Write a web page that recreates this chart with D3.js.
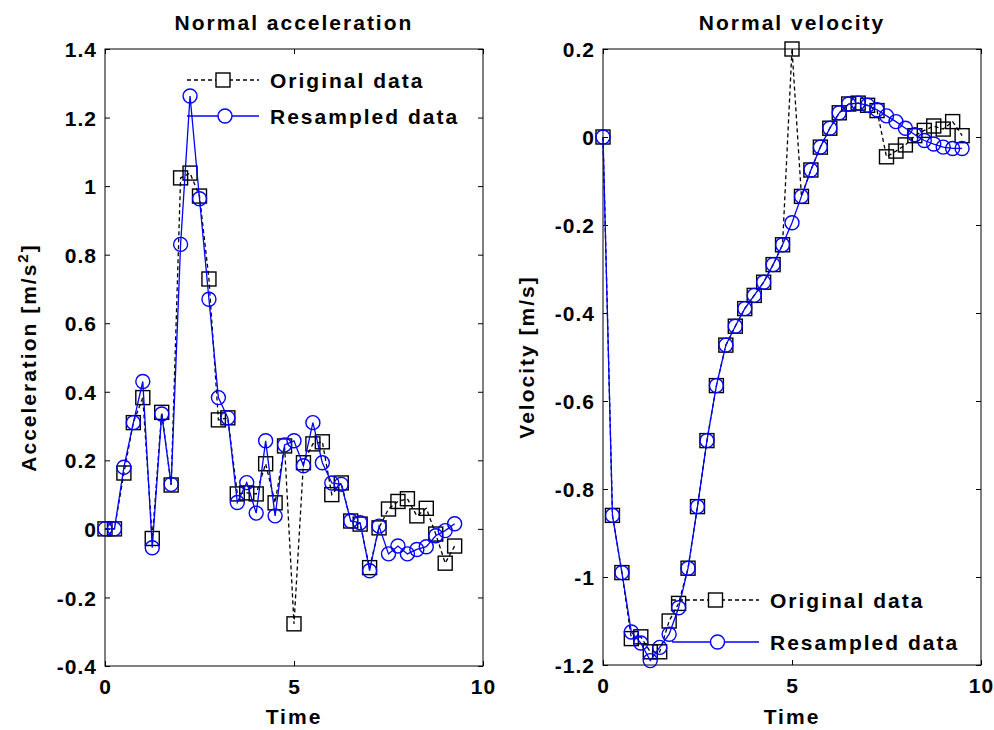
<!DOCTYPE html>
<html lang="en">
<head>
    <title>Normal acceleration and velocity</title>
    <meta charset="utf-8">
    <style>
        body { margin: 0; background: white; }
        text {
            font-family: 'Liberation Sans', Arial, sans-serif;
            font-weight: bold;
            fill: black;
        }
    </style>
</head>
<body>
    <svg id="chart" width="994" height="730"></svg>

    <script src="https://d3js.org/d3.v7.min.js"></script>
    <script>
// time stamps of the samples
const timeAcc = [0, 0.25, 0.5, 0.75, 1, 1.25, 1.5, 1.75, 2, 2.25, 2.5, 2.75, 3, 3.25, 3.5, 3.75, 4, 4.25, 4.5, 4.75,
                 5, 5.25, 5.5, 5.75, 6, 6.25, 6.5, 6.75, 7, 7.25, 7.5, 7.75, 8, 8.25, 8.5, 8.75, 9, 9.25];
const timeVel = [0, 0.25, 0.5, 0.75, 1, 1.25, 1.5, 1.75, 2, 2.25, 2.5, 2.75, 3, 3.25, 3.5, 3.75, 4, 4.25, 4.5, 4.75,
                 5, 5.25, 5.5, 5.75, 6, 6.25, 6.5, 6.75, 7, 7.25, 7.5, 7.75, 8, 8.25, 8.5, 8.75, 9, 9.25, 9.5];

// Normal acceleration [m/s^2]
const accOriginal = [0, 0, 0.163, 0.31, 0.383, -0.028, 0.34, 0.128, 1.024, 1.038, 0.971, 0.729, 0.318, 0.324,
                     0.102, 0.105, 0.102, 0.19, 0.076, 0.242, -0.277, 0.193, 0.248, 0.254, 0.10, 0.134, 0.023,
                     0.014, -0.113, 0.003, 0.058, 0.08, 0.088, 0.038, 0.06, -0.015, -0.10, -0.05];
const accResampled = [0, 0, 0.18, 0.31, 0.43, -0.055, 0.335, 0.13, 0.83, 1.263, 0.963, 0.67, 0.383, 0.324,
                      0.077, 0.135, 0.046, 0.257, 0.038, 0.245, 0.257, 0.184, 0.31, 0.193, 0.134, 0.13, 0.023,
                      0.018, -0.122, 0.008, -0.073, -0.05, -0.073, -0.06, -0.052, -0.02, -0.005, 0.015];

// Normal velocity [m/s]
const velOriginal = [0, -0.86, -0.99, -1.14, -1.136, -1.17, -1.17, -1.10, -1.06, -0.98, -0.84, -0.69, -0.565,
                     -0.473, -0.43, -0.39, -0.36, -0.33, -0.29, -0.245, 0.2, -0.135, -0.075, -0.023, 0.02, 0.055,
                     0.075, 0.077, 0.072, 0.06, -0.045, -0.032, -0.018, 0.003, 0.015, 0.025, 0.018, 0.035, 0.003];
const velResampled = [0, -0.86, -0.99, -1.125, -1.15, -1.19, -1.16, -1.13, -1.07, -0.98, -0.84, -0.69, -0.565,
                      -0.473, -0.43, -0.39, -0.36, -0.33, -0.29, -0.245, -0.195, -0.135, -0.075, -0.023, 0.02,
                      0.055, 0.075, 0.077, 0.072, 0.062, 0.048, 0.035, 0.02, 0.005, -0.008, -0.016, -0.023,
                      -0.026, -0.026];

const xTicks = [0, 5, 10];
const accTicks = [-0.4, -0.2, 0, 0.2, 0.4, 0.6, 0.8, 1, 1.2, 1.4];
const velTicks = [-1.2, -1, -0.8, -0.6, -0.4, -0.2, 0, 0.2];
const legendLabels = ["Original data", "Resampled data"];

const svg = d3.select("#chart");
const FS = 21, LS = 2;

function drawPanel(p) {
    let g = svg.append("g");

    let xScale = d3.scaleLinear().domain([0, 10]).range([p.left, p.right]);
    let yScale = d3.scaleLinear().domain(p.yDomain).range([p.bottom, p.top]);

    // box
    g.append("rect")
        .attr("x", p.left).attr("y", p.top)
        .attr("width", p.right - p.left).attr("height", p.bottom - p.top)
        .attr("fill", "none").attr("stroke", "black").attr("stroke-width", 1);

    // plain hyphen minus, like matlab
    let fmt = d => String(+d.toFixed(1));

    // axes, ticks pointing inwards
    let left = g.append("g")
        .attr("transform", "translate(" + p.left + ",0)")
        .call(d3.axisLeft(yScale).tickValues(p.yTicks).tickSize(-5).tickSizeOuter(0).tickPadding(8).tickFormat(fmt));
    g.append("g")
        .attr("transform", "translate(0," + p.bottom + ")")
        .call(d3.axisBottom(xScale).tickValues(xTicks).tickSize(-5).tickSizeOuter(0).tickPadding(13).tickFormat(fmt));
    g.append("g")
        .attr("transform", "translate(" + p.right + ",0)")
        .call(d3.axisRight(yScale).tickValues(p.yTicks).tickSize(-5).tickSizeOuter(0).tickFormat(""));
    g.append("g")
        .attr("transform", "translate(0," + p.top + ")")
        .call(d3.axisTop(xScale).tickValues(xTicks).tickSize(-5).tickSizeOuter(0).tickFormat(""));

    g.selectAll(".domain").remove();
    g.selectAll(".tick line").attr("stroke", "black");
    g.selectAll(".tick text")
        .attr("font-size", FS)
        .attr("letter-spacing", 1)
        .attr("font-family", "'Liberation Sans', Arial, sans-serif")
        .attr("font-weight", "bold")
        .attr("fill", "black");
    left.selectAll(".tick text").attr("dy", "0.36em");

    // title and labels
    g.append("text")
        .attr("x", (p.left + p.right) / 2).attr("y", 30)
        .attr("text-anchor", "middle")
        .attr("font-size", FS).attr("letter-spacing", LS)
        .text(p.title);
    g.append("text")
        .attr("x", (p.left + p.right) / 2).attr("y", 724)
        .attr("text-anchor", "middle")
        .attr("font-size", FS).attr("letter-spacing", LS)
        .text("Time");
    let yl = g.append("text")
        .attr("transform", "translate(" + (p.left - 69) + "," + ((p.top + p.bottom) / 2) + ") rotate(-90)")
        .attr("text-anchor", "middle")
        .attr("font-size", FS).attr("letter-spacing", LS)
        .text(p.yLabel);
    if (p.yLabelSup) {
        yl.append("tspan").attr("baseline-shift", "super").attr("font-size", 15).text(p.yLabelSup);
        yl.append("tspan").text("]");
    }

    // series
    let line = d3.line().x(d => xScale(d[0])).y(d => yScale(d[1]));
    let orig = p.time.map((t, i) => [t, p.original[i]]);
    let res = p.time.map((t, i) => [t, p.resampled[i]]);

    g.append("path").datum(orig)
        .attr("d", line)
        .attr("fill", "none").attr("stroke", "black")
        .attr("stroke-width", 1.3).attr("stroke-dasharray", "4,3");
    g.selectAll(".sq").data(orig).join("rect")
        .attr("class", "sq")
        .attr("x", d => xScale(d[0]) - 7).attr("y", d => yScale(d[1]) - 7)
        .attr("width", 14).attr("height", 14)
        .attr("fill", "none").attr("stroke", "black").attr("stroke-width", 1.4);

    g.append("path").datum(res)
        .attr("d", line)
        .attr("fill", "none").attr("stroke", "#0000ff").attr("stroke-width", 1.3);
    g.selectAll(".ci").data(res).join("circle")
        .attr("class", "ci")
        .attr("cx", d => xScale(d[0])).attr("cy", d => yScale(d[1]))
        .attr("r", 7)
        .attr("fill", "none").attr("stroke", "#0000ff").attr("stroke-width", 1.4);

    // legend (no box)
    let lg = g.append("g");
    let L = p.legend;
    lg.append("line")
        .attr("x1", L.x1).attr("x2", L.x2).attr("y1", L.y1).attr("y2", L.y1)
        .attr("stroke", "black").attr("stroke-width", 1.3).attr("stroke-dasharray", "4,3");
    lg.append("rect")
        .attr("x", (L.x1 + L.x2) / 2 - 7).attr("y", L.y1 - 7).attr("width", 14).attr("height", 14)
        .attr("fill", "white").attr("stroke", "black").attr("stroke-width", 1.4);
    lg.append("line")
        .attr("x1", L.x1).attr("x2", L.x2).attr("y1", L.y2).attr("y2", L.y2)
        .attr("stroke", "#0000ff").attr("stroke-width", 1.3);
    lg.append("circle")
        .attr("cx", (L.x1 + L.x2) / 2 + 2).attr("cy", L.y2).attr("r", 7)
        .attr("fill", "white").attr("stroke", "#0000ff").attr("stroke-width", 1.4);
    lg.selectAll("text").data(legendLabels).join("text")
        .attr("x", L.x2 + 11)
        .attr("y", (d, i) => i === 0 ? L.y1 : L.y2)
        .attr("dy", "0.36em")
        .attr("font-size", FS).attr("letter-spacing", LS)
        .text(d => d);
}

drawPanel({
    left: 105, right: 483, top: 49, bottom: 666,
    yDomain: [-0.4, 1.4], yTicks: accTicks,
    title: "Normal acceleration",
    yLabel: "Acceleration [m/s", yLabelSup: "2",
    time: timeAcc, original: accOriginal, resampled: accResampled,
    legend: {x1: 187, x2: 259, y1: 80, y2: 116}
});

drawPanel({
    left: 603, right: 981, top: 49, bottom: 665,
    yDomain: [-1.2, 0.2], yTicks: velTicks,
    title: "Normal velocity",
    yLabel: "Velocity [m/s]",
    time: timeVel, original: velOriginal, resampled: velResampled,
    legend: {x1: 672, x2: 759, y1: 600, y2: 642}
});
    </script>
</body>
</html>
